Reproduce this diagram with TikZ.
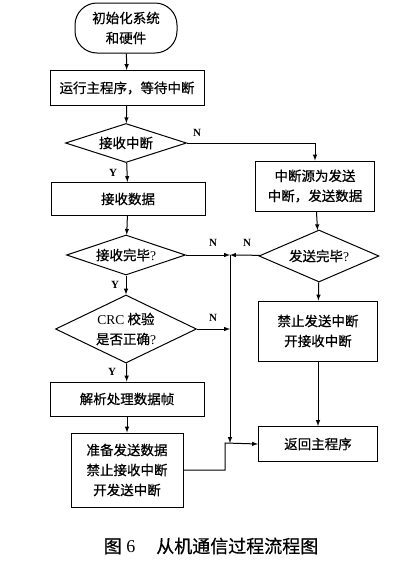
\documentclass[tikz,border=0pt]{standalone}
\usepackage{fontspec}
\setmainfont{Liberation Serif}
\newfontfamily\cjk[FakeBold=0.6]{Noto Sans CJK SC}
\usetikzlibrary{arrows,shapes}
\newcommand\lat[1]{{\rmfamily #1}}
\tikzstyle{block}=[rectangle,draw,line width=1pt,minimum width=119pt,minimum height=35pt,inner sep=0pt,align=center,font=\cjk\fontsize{13.5}{20}\selectfont]
\tikzstyle{terminal}=[block,rounded corners=22pt,minimum width=102pt,minimum height=50pt]
\tikzstyle{decision}=[diamond,draw,line width=1pt,aspect=3,inner sep=0pt,align=center,font=\cjk\fontsize{13.5}{20}\selectfont]
\tikzstyle{edge}=[draw,line width=1pt,->,>=latex]
\tikzstyle{yn}=[font=\bfseries\fontsize{11}{12}\selectfont,inner sep=1pt]

\begin{document}
\begin{tikzpicture}[x=1pt,y=-1pt]
    \useasboundingbox (0,0) rectangle (414,565);

    % left column
    \node[terminal] (start) at (126,28) {初始化系统\\和硬件};
    \node[block, minimum width=154pt] (run) at (127,88) {运行主程序，等待中断};
    \node[decision, minimum width=121pt, minimum height=39pt] (recv) at (126,143) {接收中断};
    \node[block, minimum width=154pt, minimum height=33pt] (getdata) at (128,199) {接收数据};
    \node[decision, minimum width=119pt, minimum height=40pt] (done) at (126,255) {接收完毕\lat{?}};
    \node[decision, aspect=2, minimum width=141pt, minimum height=68pt] (crc) at (126,329) {\lat{CRC} 校验\\是否正确\lat{?}};
    \node[block, minimum width=154pt, minimum height=34pt] (parse) at (127,399) {解析处理数据帧};
    \node[block, minimum width=112pt, minimum height=74pt] (prep) at (127,470) {准备发送数据\\禁止接收中断\\开发送中断};

    % right column
    \node[block, minimum height=50pt] (src) at (315,186) {中断源为发送\\中断，发送数据};
    \node[decision, minimum width=120pt, minimum height=52pt] (sent) at (319,256) {发送完毕\lat{?}};
    \node[block, minimum height=60pt] (stop) at (318,331) {禁止发送中断\\开接收中断};
    \node[block] (ret) at (318,444) {返回主程序};

    \coordinate (j1) at (230,255);
    \coordinate (j2) at (230,443);
    \coordinate (j3) at (225,443);

    \foreach \source/ \dest in {start/run, run/recv, recv/getdata, getdata/done, done/crc, crc/parse, parse/prep, src/sent, sent/stop, stop/ret, done/j1, sent/j1, j1/j2}
        \path[edge] (\source) -- (\dest);

    \path[edge] (recv.east) -| (src.north);
    \path[edge] (crc.east) -- (crc.east -| j1);
    \path[edge] (prep.east) -| (j3) -- (ret.west);

    \node[yn] at (113,173) {Y};
    \node[yn] at (115,285) {Y};
    \node[yn] at (112,372) {Y};
    \node[yn] at (197,133) {N};
    \node[yn] at (213,243) {N};
    \node[yn] at (247,243) {N};
    \node[yn] at (213,318) {N};

    \node[font=\fontsize{18}{20}\selectfont] (caption) at (211,546) {{\cjk 图}~6\quad\,{\cjk 从机通信过程流程图}};
\end{tikzpicture}
\end{document}
